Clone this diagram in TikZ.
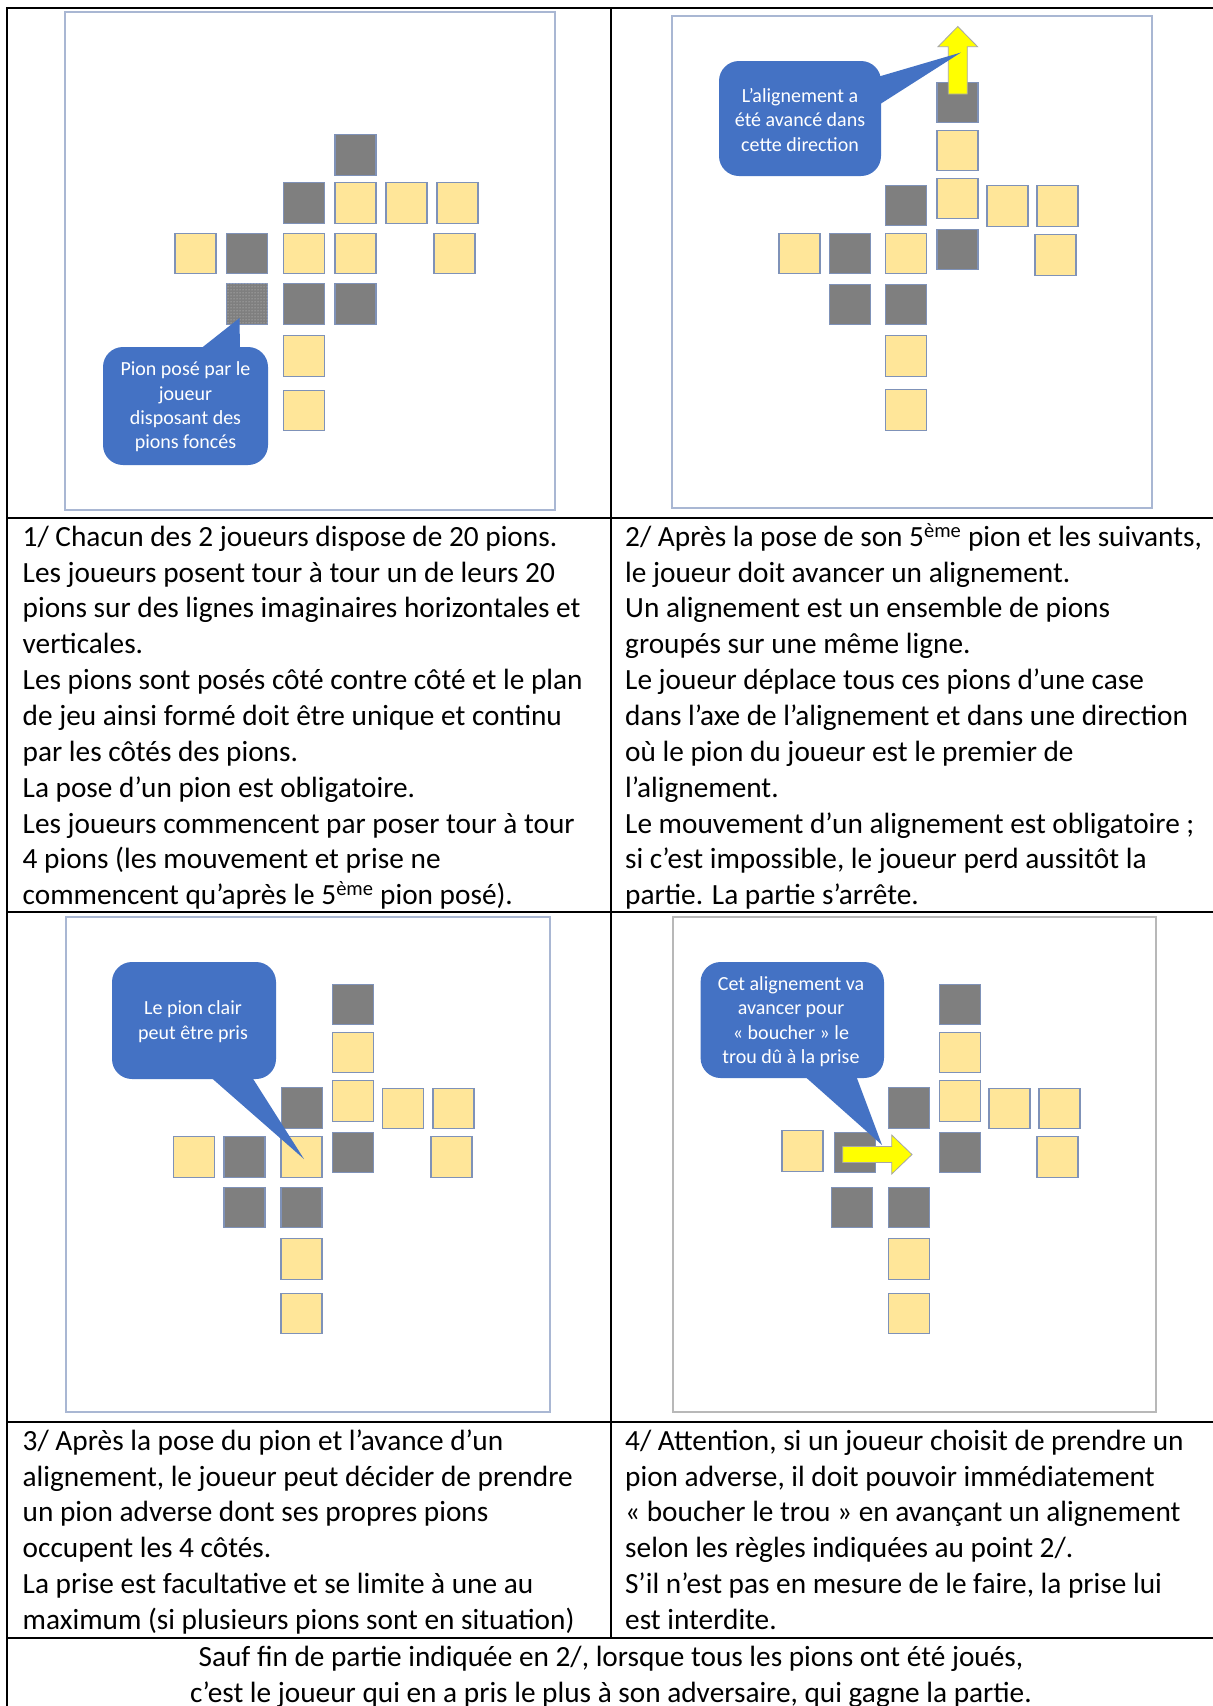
\documentclass[tikz,border=0pt]{standalone}
\usepackage{fontspec}
\setmainfont{Carlito}
\usetikzlibrary{patterns}
\definecolor{callblue}{HTML}{4472C4}
\definecolor{sqyel}{HTML}{FFE699}
\definecolor{sqdark}{HTML}{7F7F7F}
\definecolor{sqline}{HTML}{7F92B8}
\definecolor{panelline}{HTML}{A9B7D3}
\definecolor{panelgrey}{HTML}{B8B8B8}
\definecolor{arrowyel}{HTML}{FFFF00}
\newcommand\mystrut{\rule{0pt}{28pt}}
\begin{document}
\begin{tikzpicture}[x=1pt,y=-1pt,
  sqbase/.style={draw=sqline, line width=1.3pt, minimum width=41pt, minimum height=40.5pt, inner sep=0pt},
  ysq/.style={sqbase, fill=sqyel},
  dsq/.style={sqbase, fill=sqdark},
  panelframe/.style={draw=panelline, line width=2pt},
  tableline/.style={black, line width=2.2pt},
  celltext/.style={anchor=north west, inner sep=0pt, align=left, font=\fontsize{29.3}{35.85}\selectfont},
  calltext/.style={text=white, align=center, inner sep=0pt, font=\fontsize{20}{24.4}\selectfont},
  callfill/.style={fill=callblue},
  bigarrow/.style={fill=arrowyel, draw=gray!70, line width=0.8pt}
]
\useasboundingbox (0,0) rectangle (1213,1706);
\clip (0,0) rectangle (1213,1706);
\fill[white] (0,0) rectangle (1213,1706);

% ---------- table lines ----------
\draw[tableline] (7,8) -- (1214,8);
\draw[tableline] (7,518) -- (1214,518);
\draw[tableline] (7,912) -- (1214,912);
\draw[tableline] (7,1422) -- (1214,1422);
\draw[tableline] (7,1638) -- (1214,1638);
\draw[tableline] (7,7) -- (7,1710);
\draw[tableline] (611,7) -- (611,1638);

% ---------- panel 1 ----------
\draw[panelframe] (65,12) rectangle (555,510);
\node[dsq] (a1) at (355.5,155) {};
\node[dsq] (a2) at (304,203) {};
\node[ysq] (a3) at (355.5,203) {};
\node[ysq] (a4) at (406.5,203) {};
\node[ysq] (a5) at (457.5,203) {};
\node[ysq] (a6) at (195.5,253.5) {};
\node[dsq] (a7) at (247,253.5) {};
\node[ysq] (a8) at (304,253.5) {};
\node[ysq] (a9) at (355.5,253.5) {};
\node[ysq] (a10) at (454.5,253.5) {};
\node[dsq, postaction={pattern=dots, pattern color=gray!35}] (a11) at (247,304) {};
\node[dsq] (a12) at (304,304) {};
\node[dsq] (a13) at (355.5,304) {};
\node[ysq] (a14) at (304,356) {};
\node[ysq] (a15) at (304,410.5) {};
\fill[callfill, rounded corners=20pt] (103,347) rectangle (268,465);
\fill[callfill] (199,350) -- (239.5,318) -- (240,350) -- cycle;
\node[calltext] (c1) at (185.5,407) {Pion posé par le\\joueur\\disposant des\\pions foncés};

% ---------- panel 2 ----------
\draw[panelframe] (672,16) rectangle (1152,508);
\node[dsq] (b1) at (957.5,102.5) {};
\node[ysq] (b2) at (957.5,150.5) {};
\node[ysq] (b3) at (957.5,198.5) {};
\node[dsq] (b4) at (906,205.5) {};
\node[ysq] (b5) at (1007.5,206) {};
\node[ysq] (b6) at (1057.5,206) {};
\node[ysq] (b7) at (799.5,253.5) {};
\node[dsq] (b8) at (850,253.5) {};
\node[ysq] (b9) at (906,253.5) {};
\node[dsq] (b10) at (957.5,249.5) {};
\node[ysq] (b11) at (1055.5,255) {};
\node[dsq] (b12) at (850,304.5) {};
\node[dsq] (b13) at (906,304.5) {};
\node[ysq] (b14) at (906,356) {};
\node[ysq] (b15) at (906,410) {};
\draw[bigarrow] (948.3,94) -- (948.3,46.7) -- (938,46.7) -- (957.8,26.5) -- (977.6,46.7) -- (967.3,46.7) -- (967.3,94) -- cycle;
\fill[callfill, rounded corners=20pt] (719,61) rectangle (881,176);
\fill[callfill] (874,78) -- (961,52.5) -- (874,108) -- cycle;
\node[calltext] (c2) at (800,120) {L’alignement a\\été avancé dans\\cette direction};

% ---------- panel 3 ----------
\draw[panelframe] (65.6,917) rectangle (549.5,1411.7);
\node[dsq] (d1) at (353,1004.5) {};
\node[ysq] (d2) at (353,1052.5) {};
\node[ysq] (d3) at (353,1101) {};
\node[dsq] (d4) at (302,1108) {};
\node[ysq] (d5) at (403,1108.5) {};
\node[ysq] (d6) at (453.5,1108.5) {};
\node[ysq] (d7) at (194,1157) {};
\node[dsq] (d8) at (244.5,1157) {};
\node[ysq] (d9) at (301.5,1157) {};
\node[dsq] (d10) at (353,1152.5) {};
\node[ysq] (d11) at (451.5,1157) {};
\node[dsq] (d12) at (244.5,1207.5) {};
\node[dsq] (d13) at (301.5,1207.5) {};
\node[ysq] (d14) at (301.5,1259) {};
\node[ysq] (d15) at (301.5,1313.5) {};
\fill[callfill, rounded corners=20pt] (112,962) rectangle (276,1079);
\fill[callfill] (207,1074) -- (304,1159) -- (250,1074) -- cycle;
\node[calltext] (c3) at (193,1021.5) {Le pion clair\\peut être pris};

% ---------- panel 4 ----------
\draw[panelframe, draw=panelgrey] (672.8,917) rectangle (1156,1411.7);
\node[dsq] (e1) at (960,1004.5) {};
\node[ysq] (e2) at (960,1052.5) {};
\node[ysq] (e3) at (960,1101) {};
\node[dsq] (e4) at (909,1108) {};
\node[ysq] (e5) at (1009.5,1108.5) {};
\node[ysq] (e6) at (1059.5,1108.5) {};
\node[ysq] (e7) at (802.5,1151) {};
\node[dsq] (e8) at (855,1152.5) {};
\node[dsq] (e9) at (960,1152.5) {};
\node[ysq] (e10) at (1057.5,1157) {};
\node[dsq] (e11) at (852,1207.5) {};
\node[dsq] (e12) at (909,1207.5) {};
\node[ysq] (e13) at (909,1259) {};
\node[ysq] (e14) at (909,1313.5) {};
\fill[callfill, rounded corners=20pt] (700.6,962) rectangle (884,1078);
\fill[callfill] (801,1073) -- (882,1145) -- (855,1073) -- cycle;
\draw[bigarrow] (842.7,1146.5) -- (891.7,1146.5) -- (891.7,1135) -- (912,1154.5) -- (891.7,1174) -- (891.7,1162.5) -- (842.7,1162.5) -- cycle;
\node[calltext] (c4) at (791,1021.5) {Cet alignement va\\avancer pour\\«~boucher~» le\\trou dû à la prise};

% ---------- texts ----------
\node[celltext] (t1) at (22.5,518) {\mystrut 1/ Chacun des 2 joueurs dispose de 20 pions.\\
Les joueurs posent tour à tour un de leurs 20\\
pions sur des lignes imaginaires horizontales et\\
verticales.\\
Les pions sont posés côté contre côté et le plan\\
de jeu ainsi formé doit être unique et continu\\
par les côtés des pions.\\
La pose d’un pion est obligatoire.\\
Les joueurs commencent par poser tour à tour\\
4 pions (les mouvement et prise ne\\
commencent qu’après le 5\textsuperscript{ème} pion posé).};

\node[celltext] (t2) at (625,518) {\mystrut 2/ Après la pose de son 5\textsuperscript{ème} pion et les suivants,\\
le joueur doit avancer un alignement.\\
Un alignement est un ensemble de pions\\
groupés sur une même ligne.\\
Le joueur déplace tous ces pions d’une case\\
dans l’axe de l’alignement et dans une direction\\
où le pion du joueur est le premier de\\
l’alignement.\\
Le mouvement d’un alignement est obligatoire ;\\
si c’est impossible, le joueur perd aussitôt la\\
partie. La partie s’arrête.};

\node[celltext] (t3) at (22.5,1422) {\mystrut 3/ Après la pose du pion et l’avance d’un\\
alignement, le joueur peut décider de prendre\\
un pion adverse dont ses propres pions\\
occupent les 4 côtés.\\
La prise est facultative et se limite à une au\\
maximum (si plusieurs pions sont en situation)};

\node[celltext] (t4) at (625,1422) {\mystrut 4/ Attention, si un joueur choisit de prendre un\\
pion adverse, il doit pouvoir immédiatement\\
«~boucher le trou~» en avançant un alignement\\
selon les règles indiquées au point 2/.\\
S’il n’est pas en mesure de le faire, la prise lui\\
est interdite.};

\node[celltext, anchor=north, align=center] (t5) at (611,1638) {\mystrut Sauf fin de partie indiquée en 2/, lorsque tous les pions ont été joués,\\
c’est le joueur qui en a pris le plus à son adversaire, qui gagne la partie.};
\end{tikzpicture}
\end{document}
